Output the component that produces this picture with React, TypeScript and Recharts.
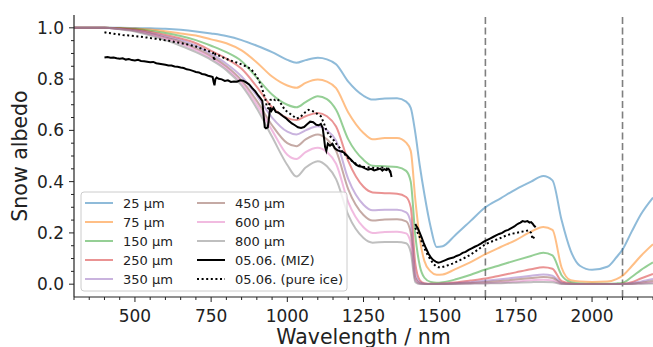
import React from "react"
import { LineChart, Line, XAxis, YAxis, ReferenceLine } from "recharts"

// modelled snow albedo, by grain size
const wavelengths = [300, 350, 400, 450, 500, 550, 600, 650, 700, 750, 800, 850, 900, 950, 1000, 1030, 1060, 1100, 1130, 1160, 1200, 1250, 1280, 1320, 1360, 1390, 1405, 1420, 1435, 1450, 1470, 1490, 1510, 1550, 1600, 1650, 1700, 1750, 1800, 1840, 1870, 1900, 1930, 1960, 2000, 2050, 2080, 2100, 2130, 2160, 2200]
const a25 = [1, 1, 1, 1, 0.999, 0.998, 0.996, 0.992, 0.986, 0.978, 0.968, 0.952, 0.93, 0.905, 0.875, 0.864, 0.874, 0.883, 0.877, 0.858, 0.79, 0.735, 0.72, 0.724, 0.725, 0.712, 0.688, 0.59, 0.46, 0.35, 0.225, 0.145, 0.148, 0.19, 0.245, 0.3, 0.335, 0.37, 0.4, 0.422, 0.405, 0.25, 0.13, 0.072, 0.056, 0.068, 0.105, 0.135, 0.205, 0.272, 0.338]
const a75 = [1, 1, 1, 0.999, 0.997, 0.993, 0.987, 0.978, 0.97, 0.955, 0.94, 0.912, 0.865, 0.81, 0.775, 0.766, 0.785, 0.798, 0.79, 0.765, 0.67, 0.59, 0.565, 0.57, 0.57, 0.552, 0.52, 0.33, 0.175, 0.09, 0.05, 0.037, 0.038, 0.058, 0.085, 0.117, 0.145, 0.172, 0.205, 0.223, 0.212, 0.065, 0.015, 0.01, 0.009, 0.01, 0.02, 0.033, 0.07, 0.11, 0.156]
const a150 = [1, 1, 1, 0.998, 0.995, 0.989, 0.98, 0.968, 0.952, 0.93, 0.905, 0.87, 0.805, 0.74, 0.7, 0.69, 0.71, 0.733, 0.722, 0.68, 0.565, 0.485, 0.462, 0.46, 0.457, 0.442, 0.4, 0.19, 0.07, 0.025, 0.009, 0.006, 0.008, 0.018, 0.036, 0.057, 0.075, 0.093, 0.11, 0.123, 0.112, 0.035, 0.008, 0.003, 0.002, 0.002, 0.003, 0.005, 0.028, 0.055, 0.085]
const a250 = [1, 1, 1, 0.997, 0.993, 0.984, 0.972, 0.958, 0.94, 0.91, 0.88, 0.84, 0.77, 0.69, 0.648, 0.64, 0.655, 0.668, 0.655, 0.615, 0.48, 0.38, 0.358, 0.355, 0.353, 0.34, 0.3, 0.08, 0.015, 0.004, 0.002, 0.002, 0.003, 0.007, 0.014, 0.022, 0.034, 0.046, 0.058, 0.066, 0.06, 0.012, 0.003, 0.001, 0.001, 0.001, 0.001, 0.002, 0.008, 0.022, 0.04]
const a350 = [1, 1, 1, 0.996, 0.991, 0.98, 0.966, 0.952, 0.93, 0.898, 0.86, 0.81, 0.735, 0.65, 0.595, 0.584, 0.6, 0.616, 0.6, 0.56, 0.41, 0.31, 0.288, 0.29, 0.29, 0.28, 0.24, 0.04, 0.008, 0.002, 0.001, 0.001, 0.002, 0.004, 0.008, 0.013, 0.019, 0.026, 0.033, 0.038, 0.033, 0.006, 0.001, 0.001, 0.001, 0.001, 0.001, 0.001, 0.004, 0.01, 0.02]
const a450 = [1, 1, 1, 0.996, 0.989, 0.977, 0.962, 0.946, 0.92, 0.89, 0.85, 0.795, 0.715, 0.62, 0.55, 0.538, 0.565, 0.584, 0.565, 0.52, 0.37, 0.27, 0.248, 0.252, 0.253, 0.245, 0.2, 0.025, 0.004, 0.001, 0.001, 0.001, 0.001, 0.003, 0.005, 0.008, 0.012, 0.018, 0.024, 0.028, 0.024, 0.004, 0.001, 0.001, 0.001, 0.001, 0.001, 0.001, 0.002, 0.006, 0.012]
const a600 = [1, 1, 1, 0.995, 0.988, 0.974, 0.958, 0.94, 0.913, 0.883, 0.843, 0.785, 0.7, 0.6, 0.505, 0.488, 0.515, 0.532, 0.515, 0.47, 0.32, 0.222, 0.2, 0.204, 0.205, 0.198, 0.16, 0.015, 0.002, 0.001, 0.001, 0.001, 0.001, 0.002, 0.003, 0.004, 0.007, 0.01, 0.015, 0.017, 0.014, 0.002, 0.001, 0.001, 0.001, 0.001, 0.001, 0.001, 0.001, 0.003, 0.006]
const a800 = [1, 1, 1, 0.994, 0.986, 0.97, 0.952, 0.93, 0.905, 0.875, 0.835, 0.775, 0.685, 0.575, 0.465, 0.42, 0.455, 0.48, 0.46, 0.41, 0.27, 0.18, 0.162, 0.165, 0.165, 0.16, 0.125, 0.008, 0.001, 0.001, 0.001, 0.001, 0.001, 0.001, 0.002, 0.003, 0.004, 0.006, 0.008, 0.009, 0.008, 0.001, 0.001, 0.001, 0.001, 0.001, 0.001, 0.001, 0.001, 0.002, 0.003]

const grainLabels = ["25 µm", "75 µm", "150 µm", "250 µm", "350 µm", "450 µm", "600 µm", "800 µm"]
const grainKeys = ["a25", "a75", "a150", "a250", "a350", "a450", "a600", "a800"]
const grainColors = ["#1f77b4", "#ff7f0e", "#2ca02c", "#d62728", "#9467bd", "#8c564b", "#e377c2", "#7f7f7f"]

// measurements 05.06. (null = gap in the spectrum)
const mizWl = [400, 410, 420, 430, 440, 450, 460, 470, 480, 490, 500, 510, 520, 530, 540, 550, 560, 570, 580, 590, 600, 610, 620, 630, 640, 650, 660, 670, 680, 690, 700, 710, 720, 730, 740, 750, 755, 758, 761, 764, 768, 775, 785, 795, 805, 815, 825, 835, 845, 855, 865, 875, 885, 895, 905, 912, 918, 922, 926, 930, 936, 940, 944, 948, 955, 962, 970, 978, 986, 995, 1005, 1015, 1025, 1035, 1045, 1055, 1065, 1075, 1085, 1095, 1103, 1110, 1116, 1120, 1124, 1128, 1133, 1140, 1148, 1156, 1165, 1175, 1185, 1195, 1205, 1215, 1225, 1235, 1245, 1255, 1265, 1275, 1285, 1295, 1305, 1312, 1318, 1325, 1332, 1338, 1342, 1380, 1420, 1424, 1428, 1433, 1440, 1447, 1455, 1463, 1471, 1479, 1487, 1495, 1503, 1511, 1519, 1527, 1535, 1545, 1555, 1565, 1575, 1585, 1595, 1605, 1615, 1625, 1635, 1645, 1655, 1665, 1675, 1685, 1695, 1705, 1715, 1725, 1735, 1745, 1752, 1758, 1765, 1772, 1780, 1788, 1795, 1800, 1805, 1810, 1815]
const mizAlb = [0.884, 0.886, 0.883, 0.884, 0.881, 0.879, 0.881, 0.876, 0.878, 0.874, 0.873, 0.875, 0.871, 0.87, 0.868, 0.866, 0.867, 0.862, 0.86, 0.858, 0.856, 0.853, 0.853, 0.849, 0.848, 0.845, 0.843, 0.838, 0.836, 0.832, 0.828, 0.826, 0.82, 0.818, 0.813, 0.81, 0.808, 0.79, 0.776, 0.8, 0.806, 0.801, 0.799, 0.793, 0.795, 0.789, 0.791, 0.79, 0.795, 0.794, 0.787, 0.779, 0.765, 0.752, 0.735, 0.725, 0.715, 0.66, 0.612, 0.608, 0.612, 0.65, 0.69, 0.676, 0.688, 0.672, 0.67, 0.663, 0.655, 0.648, 0.637, 0.627, 0.62, 0.612, 0.609, 0.613, 0.624, 0.634, 0.632, 0.622, 0.62, 0.625, 0.61, 0.575, 0.535, 0.52, 0.548, 0.54, 0.548, 0.53, 0.522, 0.518, 0.514, 0.503, 0.49, 0.478, 0.466, 0.46, 0.458, 0.452, 0.447, 0.45, 0.444, 0.447, 0.451, 0.443, 0.449, 0.445, 0.45, 0.44, 0.418, null, 0.235, 0.226, 0.218, 0.205, 0.185, 0.162, 0.14, 0.12, 0.104, 0.094, 0.088, 0.084, 0.086, 0.09, 0.094, 0.098, 0.101, 0.104, 0.11, 0.114, 0.122, 0.126, 0.134, 0.14, 0.146, 0.151, 0.158, 0.166, 0.172, 0.178, 0.184, 0.19, 0.196, 0.2, 0.208, 0.212, 0.219, 0.225, 0.232, 0.236, 0.24, 0.246, 0.244, 0.246, 0.24, 0.242, 0.236, 0.228, 0.222, 0.214, 0.222, 0.206]
const iceWl = [400, 410, 420, 430, 440, 450, 460, 470, 480, 490, 500, 510, 520, 530, 540, 550, 560, 570, 580, 590, 600, 610, 620, 630, 640, 650, 660, 670, 680, 690, 700, 710, 720, 730, 740, 750, 756, 760, 764, 770, 780, 790, 800, 810, 820, 830, 840, 850, 860, 870, 880, 890, 900, 908, 915, 922, 928, 933, 938, 944, 952, 960, 968, 976, 984, 992, 1000, 1010, 1020, 1030, 1040, 1050, 1060, 1070, 1080, 1090, 1100, 1110, 1120, 1130, 1140, 1150, 1160, 1170, 1180, 1190, 1200, 1215, 1230, 1250, 1270, 1290, 1310, 1330, 1342, 1380, 1420, 1426, 1432, 1440, 1448, 1456, 1464, 1472, 1480, 1488, 1496, 1506, 1518, 1530, 1542, 1556, 1570, 1584, 1598, 1612, 1626, 1640, 1654, 1668, 1682, 1696, 1710, 1724, 1738, 1752, 1766, 1780, 1792, 1800, 1805, 1810]
const iceAlb = [0.983, 0.98, 0.979, 0.977, 0.975, 0.974, 0.972, 0.971, 0.97, 0.969, 0.968, 0.966, 0.965, 0.963, 0.962, 0.96, 0.958, 0.957, 0.955, 0.953, 0.951, 0.95, 0.948, 0.945, 0.943, 0.941, 0.938, 0.936, 0.933, 0.93, 0.927, 0.922, 0.918, 0.914, 0.91, 0.906, 0.903, 0.872, 0.898, 0.895, 0.889, 0.884, 0.879, 0.874, 0.87, 0.866, 0.862, 0.857, 0.852, 0.846, 0.84, 0.826, 0.81, 0.79, 0.772, 0.745, 0.722, 0.69, 0.686, 0.718, 0.724, 0.718, 0.722, 0.71, 0.695, 0.68, 0.672, 0.664, 0.655, 0.646, 0.65, 0.66, 0.672, 0.68, 0.676, 0.672, 0.662, 0.655, 0.628, 0.595, 0.578, 0.565, 0.548, 0.535, 0.518, 0.505, 0.492, 0.478, 0.466, 0.458, 0.455, 0.452, 0.455, 0.45, 0.43, null, 0.22, 0.205, 0.19, 0.168, 0.145, 0.125, 0.107, 0.092, 0.078, 0.07, 0.066, 0.066, 0.07, 0.075, 0.08, 0.088, 0.096, 0.104, 0.113, 0.124, 0.135, 0.148, 0.158, 0.165, 0.172, 0.178, 0.186, 0.192, 0.197, 0.2, 0.204, 0.207, 0.21, 0.2, 0.175, 0.185]

const xMajor = [500, 750, 1000, 1250, 1500, 1750, 2000]
const xMinor = [300, 350, 400, 450, 550, 600, 650, 700, 800, 850, 900, 950, 1050, 1100, 1150, 1200, 1300, 1350, 1400, 1450, 1550, 1600, 1650, 1700, 1800, 1850, 1900, 1950, 2050, 2100, 2150, 2200]
const yMajor = [0, 0.2, 0.4, 0.6, 0.8, 1.0]
const yMinor = [0.05, 0.1, 0.15, 0.25, 0.3, 0.35, 0.45, 0.5, 0.55, 0.65, 0.7, 0.75, 0.85, 0.9, 0.95]
const markedWl = [1650, 2100]

const modelRows = wavelengths.map((wl, i) => ({
  wl,
  a25: a25[i], a75: a75[i], a150: a150[i], a250: a250[i],
  a350: a350[i], a450: a450[i], a600: a600[i], a800: a800[i],
}))
const mizRows = mizWl.map((wl, i) => ({ wl, v: mizAlb[i] }))
const iceRows = iceWl.map((wl, i) => ({ wl, v: iceAlb[i] }))

const FONT = "'DejaVu Sans', sans-serif"
const INK = "#222"

const XTick = (props: any) => {
  const { x, y, payload } = props
  const major = xMajor.includes(payload.value)
  return (
    <g>
      <line x1={x} x2={x} y1={y} y2={y + (major ? 5 : 3)} stroke={INK} strokeWidth={1} />
      {major && (
        <text x={x} y={y + 24.5} textAnchor="middle" fontSize={17} fill={INK} fontFamily={FONT}>
          {payload.value}
        </text>
      )}
    </g>
  )
}

const YTick = (props: any) => {
  const { x, y, payload } = props
  const major = yMajor.some((v) => Math.abs(v - payload.value) < 1e-9)
  return (
    <g>
      <line x1={x - (major ? 5 : 3)} x2={x} y1={y} y2={y} stroke={INK} strokeWidth={1} />
      {major && (
        <text x={x - 10} y={y + 6} textAnchor="end" fontSize={17} fill={INK} fontFamily={FONT}>
          {payload.value.toFixed(1)}
        </text>
      )}
    </g>
  )
}

function LegendBox() {
  const items = [
    ...grainLabels.map((label, i) => ({ label, color: grainColors[i], opacity: 0.5, dash: undefined as string | undefined })),
    { label: "05.06. (MIZ)", color: "#000", opacity: 1, dash: undefined },
    { label: "05.06. (pure ice)", color: "#000", opacity: 1, dash: "2 2.6" },
  ]
  return (
    <svg width={268} height={101} style={{ position: "absolute", left: 80, top: 191 }}>
      <rect x={1} y={1} width={266} height={99} rx={3} fill="#fff" fillOpacity={0.8} stroke="#ccc" strokeWidth={1} />
      {items.map((it, i) => {
        const col = Math.floor(i / 5)
        const row = i % 5
        const cy = 12 + row * 19
        const x0 = col === 0 ? 5 : 117
        return (
          <g key={it.label}>
            <line x1={x0} x2={x0 + 28} y1={cy} y2={cy} stroke={it.color} strokeOpacity={it.opacity} strokeWidth={2} strokeDasharray={it.dash} />
            <text x={x0 + 38} y={cy + 4.7} fontSize={13} fill={INK} fontFamily={FONT}>{it.label}</text>
          </g>
        )
      })}
    </svg>
  )
}

export default function App() {
  return (
    <div style={{ position: "absolute", left: 0, top: 0, width: 653, height: 347, background: "#fff" }}>
      <LineChart width={653} height={347} data={modelRows} margin={{ top: 15, right: 0, bottom: 0, left: 0 }} style={{ fontFamily: FONT }}>
        <XAxis
          type="number"
          dataKey="wl"
          domain={[300, 2200]}
          ticks={[...xMajor, ...xMinor].sort((a, b) => a - b)}
          interval={0}
          allowDataOverflow
          height={50}
          tickSize={0}
          tickMargin={0}
          tickLine={false}
          tick={<XTick />}
          axisLine={{ stroke: INK, strokeWidth: 1.2 }}
          label={{
            content: (p: any) => (
              <text x={p.viewBox.x + p.viewBox.width / 2} y={p.viewBox.y + 47} textAnchor="middle" fontSize={20.5} fill={INK} fontFamily={FONT}>
                Wavelength / nm
              </text>
            ),
          }}
        />
        <YAxis
          type="number"
          domain={[-0.05, 1.05]}
          ticks={[...yMajor, ...yMinor].sort((a, b) => a - b)}
          interval={0}
          allowDataOverflow
          width={74}
          tickSize={0}
          tickMargin={0}
          tickLine={false}
          tick={<YTick />}
          axisLine={{ stroke: INK, strokeWidth: 1.2 }}
          label={{
            content: (p: any) => (
              <text
                x={20}
                y={p.viewBox.y + p.viewBox.height / 2}
                textAnchor="middle"
                dominantBaseline="central"
                fontSize={20.5}
                fill={INK}
                fontFamily={FONT}
                transform={`rotate(-90 20 ${p.viewBox.y + p.viewBox.height / 2})`}
              >
                Snow albedo
              </text>
            ),
          }}
        />
        {markedWl.map((wl) => (
          <ReferenceLine key={wl} x={wl} stroke="#7f7f7f" strokeWidth={1.6} strokeDasharray="7 3.5" />
        ))}
        {grainKeys.map((k, i) => (
          <Line
            key={k}
            type="monotone"
            dataKey={k}
            stroke={grainColors[i]}
            strokeOpacity={0.5}
            strokeWidth={2}
            dot={false}
            activeDot={false}
            isAnimationActive={false}
          />
        ))}
        <Line data={mizRows} type="linear" dataKey="v" stroke="#000" strokeWidth={2} dot={false} activeDot={false} isAnimationActive={false} />
        <Line data={iceRows} type="linear" dataKey="v" stroke="#000" strokeWidth={2} strokeDasharray="2 2.6" dot={false} activeDot={false} isAnimationActive={false} />
      </LineChart>
      <LegendBox />
    </div>
  )
}
